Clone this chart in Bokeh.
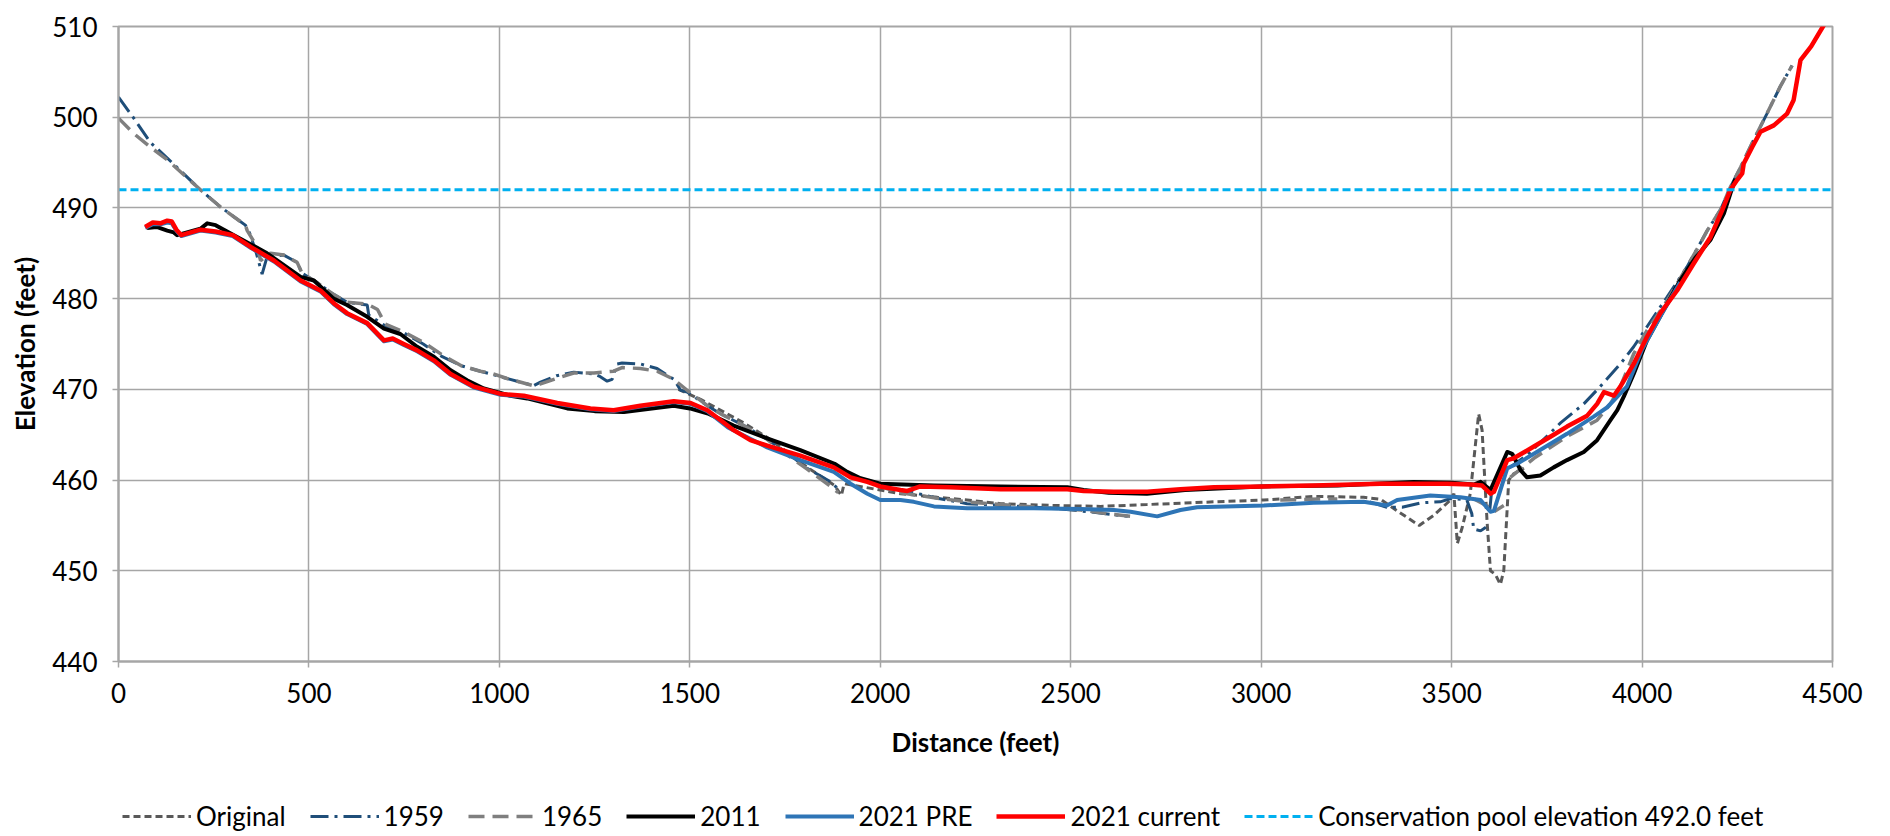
import math
from bokeh.plotting import figure
from bokeh.layouts import column
from bokeh.models import Range1d, SingleIntervalTicker, Legend, LegendItem
from bokeh.embed import file_html
from bokeh.resources import INLINE

NaN = math.nan

# ---- survey profiles: distance (feet) vs elevation (feet) ----
original_x = [1470, 1528, 1572, 1642, 1703, 1755, 1808, 1852, 1880, 1898, 1905, 1960, 2053, 2150, 2228, 2316,
              2450, 2578, 2700, 2876, 3007, 3138, 3269, 3313, 3357, 3415, 3453, 3497, 3506, 3515, 3528, 3549,
              3571, 3580, 3593, 3602, 3615, 3628, 3637, 3650, 3663, 3690]
original_y = [470.0, 468.9, 467.9, 466.3, 464.7, 463.1, 461.4, 460.2, 459.4, 458.3, 459.6, 459.2, 458.5, 458.1,
              457.8, 457.4, 457.2, 457.1, 457.3, 457.6, 457.8, 458.2, 458.1, 457.9, 456.6, 455.0, 456.1, 457.8,
              458.5, 453.0, 454.8, 458.5, 467.3, 465.5, 455.5, 450.0, 449.6, 448.5, 450.0, 460.0, 460.7, 461.3]

s1959_x = [0, 40, 84, 128, 215, 268, 333, 342, 360, 377, 390, 434, 469, 482, 520, 560, 600, 653, 657, 700, 750,
           800, 850, 900, 950, 977, 1020, 1090, 1108, 1150, 1195, 1248, 1265, 1283, 1296, 1309, 1322, 1370, 1414,
           1458, 1476, 1493, 1546, 1581, 1642, 1703, 1755, 1808, 1870, 1890, NaN,
           2040, 2100, 2150, 2228, 2316, 2450, 2550, 2650, NaN,
           3285, 3330, 3370, 3420, 3470, 3500, 3540, 3553, 3558, 3576, 3590, NaN,
           3600, 3606, NaN,
           3650, 3700, 3786, 3847, 3890, 3943, 3978, 4013, 4066, 4118, 4171, 4206, 4232, 4259, 4293, 4328, 4363,
           4394]
s1959_y = [502.2, 499.9, 497.2, 495.5, 492.0, 490.1, 488.1, 487.5, 485.3, 482.7, 484.6, 484.8, 484.0, 482.8,
           481.8, 480.6, 479.6, 479.3, 478.2, 477.0, 476.2, 475.0, 473.6, 472.6, 472.0, 471.7, 471.2, 470.4,
           470.8, 471.5, 471.9, 471.7, 471.4, 470.9, 471.1, 472.8, 472.9, 472.8, 472.3, 471.1, 469.9, 469.7,
           468.2, 467.3, 466.0, 464.5, 463.0, 461.3, 459.8, 459.0, NaN,
           459.0, 458.5, 458.0, 457.4, 457.2, 456.9, 456.5, 456.0, NaN,
           457.6, 457.0, 457.0, 457.5, 457.6, 458.0, 457.8, 456.3, 454.6, 454.4, 454.8, NaN,
           456.6, 459.2, NaN,
           461.3, 462.8, 466.3, 468.4, 470.3, 472.8, 474.7, 476.9, 480.2, 483.5, 487.5, 489.8, 492.3, 494.5,
           497.5, 500.4, 503.4, 505.7]

s1965_x = [0, 40, 84, 128, 215, 268, 333, 338, 364, 373, 399, 434, 469, 482, 520, 560, 600, 653, 680, 700, 750,
           800, 850, 900, 950, 977, 1020, 1090, 1108, 1150, 1195, 1248, 1300, 1322, 1370, 1414, 1458, 1493, 1546,
           1581, 1642, 1703, 1755, 1808, 1870, 1890, NaN,
           1990, 2053, 2150, 2228, 2316, 2450, 2526, 2613, 2660, NaN,
           3050, 3150, 3200, NaN,
           3560, 3600, 3611, 3637, NaN,
           3654, 3716, 3803, 3882, 3917, 3943, 3978, 4013, 4066, 4118, 4153, 4171, 4206, 4232, 4259, 4293, 4328,
           4363, 4394]
s1965_y = [499.9, 498.2, 496.7, 495.3, 492.0, 490.1, 488.1, 487.5, 485.7, 484.2, 485.0, 484.8, 484.0, 482.8,
           481.8, 480.6, 479.6, 479.4, 478.8, 477.2, 476.3, 475.2, 473.8, 472.6, 472.0, 471.8, 471.2, 470.4,
           470.6, 471.2, 471.8, 471.8, 472.0, 472.4, 472.3, 472.0, 471.1, 469.9, 468.2, 467.3, 466.0, 464.5,
           462.8, 461.2, 459.3, 458.6, NaN,
           459.4, 458.6, 458.0, 457.6, 457.3, 456.9, 456.7, 456.2, 456.0, NaN,
           457.8, 457.9, 457.9, NaN,
           457.9, 457.0, 456.5, 457.2, NaN,
           460.3, 462.4, 464.8, 466.6, 468.4, 470.3, 473.9, 476.5, 479.8, 483.5, 486.1, 487.5, 489.8, 492.3,
           494.5, 497.5, 500.4, 503.4, 505.7]

s2011_x = [75, 100, 128, 145, 154, 215, 233, 255, 303, 390, 478, 513, 565, 600, 653, 697, 740, 784, 828, 872,
           915, 959, 1029, 1073, 1178, 1250, 1327, 1400, 1458, 1500, 1550, 1615, 1703, 1790, 1880, 1913, 1948,
           2000, 2141, 2316, 2491, 2534, 2600, 2700, 2800, 3000, 3200, 3400, 3500, 3558, 3576, 3602, 3646,
           3659, 3681, 3698, 3733, 3768, 3803, 3847, 3882, 3917, 3935, 3952, 3978, 4013, 4060, 4100, 4140,
           4180, 4215, 4232, 4245]
s2011_y = [487.8, 487.9, 487.5, 487.3, 487.0, 487.7, 488.3, 488.1, 487.0, 485.0, 482.4, 482.0, 480.0, 479.3,
           478.0, 476.7, 476.1, 474.7, 473.6, 472.1, 471.0, 470.1, 469.3, 469.0, 467.9, 467.6, 467.5, 467.9,
           468.2, 467.9, 467.3, 466.0, 464.6, 463.3, 461.8, 460.9, 460.2, 459.6, 459.4, 459.3, 459.2, 458.9,
           458.6, 458.5, 458.9, 459.3, 459.4, 459.8, 459.7, 459.5, 459.8, 458.9, 463.1, 462.9, 461.1, 460.3,
           460.5, 461.4, 462.2, 463.1, 464.4, 466.6, 467.7, 469.2, 471.7, 475.4, 479.0, 482.0, 484.5, 486.5,
           489.4, 491.6, 493.2]

pre2021_x = [70, 90, 110, 128, 140, 152, 165, 215, 255, 300, 347, 408, 478, 530, 565, 600, 653, 697, 720, 749,
             784, 828, 872, 933, 1003, 1064, 1152, 1239, 1300, 1370, 1458, 1502, 1546,
             1600, 1703, 1790, 1878, 1922, 1966, 2000, 2053, 2088, 2141, 2228, 2403, 2526, 2613, 2657,
             2727, 2788, 2832, 3007, 3138, 3269, 3330, 3357, 3444, 3488, 3523, 3576, 3602, 3611, 3646, 3672,
             3716, 3803, 3873, 3908, 3960, 4000, 4050, 4100]
pre2021_y = [487.8, 488.2, 488.2, 488.4, 488.3, 487.5, 486.9, 487.5, 487.3, 486.9, 485.6, 484.1, 481.9, 480.8,
             479.4, 478.3, 477.2, 475.3, 475.5, 474.9, 474.2, 473.1, 471.6, 470.2, 469.4, 469.2, 468.4, 467.8,
             467.6, 468.1, 468.6, 468.4, 467.6,
             465.8, 463.6, 462.2, 460.9, 459.6, 458.5, 457.8, 457.8, 457.6, 457.1, 456.9, 456.9, 456.8,
             456.7, 456.5, 456.0, 456.7, 457.0, 457.2, 457.5, 457.6, 457.2, 457.8, 458.3, 458.2, 458.1, 457.8,
             456.5, 456.6, 461.3, 461.8, 462.9, 465.1, 467.0, 468.0, 470.3, 474.4, 478.2, 481.8]

cur2021_x = [70, 90, 110, 128, 140, 152, 165, 215, 255, 300, 347, 408, 478, 530, 565, 600, 653, 697, 720, 749,
             784, 828, 872, 933, 1003, 1064, 1152, 1239, 1300, 1370, 1458, 1502, 1546, 1581, 1615, 1659, 1703,
             1790, 1878, 1922, 1966, 2000, 2053, 2071, 2105, 2184, 2316, 2491, 2534, 2613, 2701, 2788, 2876,
             3007, 3138, 3313, 3401, 3488, 3549, 3580, 3602, 3611, 3646, 3663, 3716, 3768, 3803, 3856, 3882,
             3900, 3926, 3943, 3978, 4013, 4048, 4092, 4136, 4180, 4210, 4232, 4250, 4263, 4267, 4289, 4311,
             4346, 4381, 4398, 4407, 4416, 4444, 4475, 4500]
cur2021_y = [487.9, 488.4, 488.3, 488.6, 488.5, 487.6, 487.0, 487.6, 487.4, 487.0, 485.7, 484.2, 482.0, 480.9,
             479.5, 478.4, 477.3, 475.4, 475.6, 475.0, 474.3, 473.2, 471.7, 470.3, 469.5, 469.3, 468.5, 467.9,
             467.7, 468.2, 468.7, 468.5, 467.7, 466.6, 465.5, 464.4, 463.8, 462.7, 461.4, 460.3, 459.8, 459.3,
             458.9, 458.8, 459.3, 459.2, 459.0, 459.0, 458.8, 458.7, 458.7, 459.0, 459.2, 459.3, 459.4, 459.6,
             459.6, 459.6, 459.5, 459.4, 458.5, 458.7, 462.2, 462.4, 463.7, 465.0, 465.9, 467.1, 468.4, 469.7,
             469.3, 470.3, 472.8, 475.8, 478.4, 480.9, 483.9, 486.8, 489.7, 492.0, 493.1, 493.8, 494.9, 496.7,
             498.4, 499.1, 500.4, 501.9, 504.1, 506.3, 507.8, 510.0, 511.6]

POOL_ELEV = 492.0
X_MIN, X_MAX = 0, 4500
Y_MIN, Y_MAX = 440, 510

FONT = "Lato"
GRID = "#A6A6A6"
W = 1890
MAIN_H = 790
KEY_H = 46

# line styles shared by the profile lines and their legend keys
STYLES = [
    ("Original", dict(line_color="#595959", line_width=3, line_dash="7 4")),
    ("1959", dict(line_color="#1F4E79", line_width=3, line_dash="18 6 3 6")),
    ("1965", dict(line_color="#7F7F7F", line_width=3.5, line_dash="16 8")),
    ("2011", dict(line_color="black", line_width=4, line_join="round")),
    ("2021 PRE", dict(line_color="#2E75B6", line_width=4, line_join="round")),
    ("2021 current", dict(line_color="#FF0000", line_width=4.5, line_join="round")),
    (f"Conservation pool elevation {POOL_ELEV:.1f} feet", dict(line_color="#00B0F0", line_width=3, line_dash="8 4")),
]

p = figure(width=W, height=MAIN_H, output_backend="svg", toolbar_location=None,
           x_range=Range1d(X_MIN, X_MAX), y_range=Range1d(Y_MIN, Y_MAX),
           min_border_left=118, min_border_right=58, min_border_top=26, min_border_bottom=MAIN_H - 661,
           background_fill_color="white", border_fill_color="white")

p.outline_line_color = GRID
p.outline_line_width = 2

for ax in (p.xaxis[0], p.yaxis[0]):
    ax.axis_line_color = GRID
    ax.axis_line_width = 2
    ax.major_tick_line_color = GRID
    ax.major_tick_line_width = 1.5
    ax.major_tick_in = 0
    ax.major_tick_out = 6
    ax.minor_tick_line_color = None
    ax.major_label_text_font = FONT
    ax.major_label_text_font_size = "26px"
    ax.major_label_text_color = "black"
    ax.axis_label_text_font = FONT
    ax.axis_label_text_font_size = "26px"
    ax.axis_label_text_font_style = "bold"
    ax.axis_label_text_color = "black"

p.xaxis.ticker = SingleIntervalTicker(interval=500)
p.yaxis.ticker = SingleIntervalTicker(interval=10)
p.xaxis.axis_label = "Distance (feet)"
p.yaxis.axis_label = "Elevation (feet)"
p.xaxis.major_label_standoff = 15
p.xaxis.axis_label_standoff = 20
p.yaxis.major_label_standoff = 15
p.yaxis.axis_label_standoff = 8

p.xgrid.grid_line_color = GRID
p.ygrid.grid_line_color = GRID
p.xgrid.grid_line_width = 1.5
p.ygrid.grid_line_width = 1.5

series = [
    (original_x, original_y),
    (s1959_x, s1959_y),
    (s1965_x, s1965_y),
    (s2011_x, s2011_y),
    (pre2021_x, pre2021_y),
    (cur2021_x, cur2021_y),
    ([X_MIN, X_MAX], [POOL_ELEV, POOL_ELEV]),
]
for (xs, ys), (_, style) in zip(series, STYLES):
    p.line(xs, ys, **style)

# separate strip under the chart holding the legend row
key = figure(width=W, height=KEY_H, output_backend="svg", toolbar_location=None,
             x_range=Range1d(0, 1), y_range=Range1d(0, 1),
             x_axis_location=None, y_axis_location=None,
             min_border_left=0, min_border_right=0, min_border_top=0, min_border_bottom=0,
             background_fill_color="white", border_fill_color="white")
key.outline_line_color = None
key.xgrid.visible = False
key.ygrid.visible = False

items = []
for label, style in STYLES:
    # off-range stub so each key renderer carries the line style
    r = key.line([5, 6], [5, 6], **style)
    items.append(LegendItem(label=label, renderers=[r]))

legend = Legend(items=items, orientation="horizontal", location=(0, 0))
legend.label_text_font = FONT
legend.label_text_font_size = "26px"
legend.label_text_color = "black"
legend.glyph_width = 69
legend.glyph_height = 20
legend.label_standoff = 5
legend.spacing = 24
legend.padding = 4
legend.margin = 0
legend.border_line_alpha = 0
legend.background_fill_alpha = 0
key.add_layout(legend, "center")

layout = column(p, key, spacing=0)
open("out.html", "w").write(file_html(layout, INLINE))
